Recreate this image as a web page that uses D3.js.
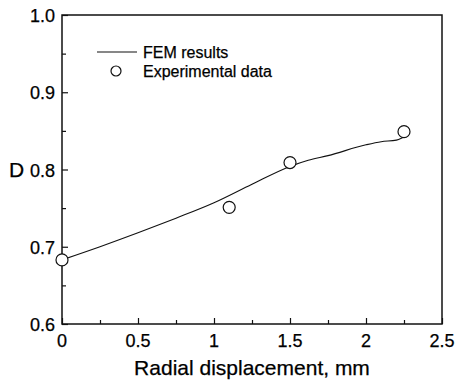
<!DOCTYPE html>
<html>
<head>
<meta charset="utf-8">
<script src="https://cdn.jsdelivr.net/npm/d3@7"></script>
<style>
  body { margin: 0; background: #fff; }
  text { font-family: "Liberation Sans", Arial, sans-serif; fill: #000; stroke: #000; stroke-width: 0.25px; }
</style>
</head>
<body>
<script>
// FEM curve
const femX = [0, 0.25, 0.5, 0.75, 1.0, 1.25, 1.5, 1.62, 1.75, 2.0, 2.1, 2.2, 2.25];
const femD = [0.683, 0.700, 0.718, 0.737, 0.757, 0.781, 0.804, 0.812, 0.818, 0.832, 0.836, 0.838, 0.842];

// experimental points
const expX = [0, 1.1, 1.5, 2.25];
const expD = [0.683, 0.751, 0.809, 0.849];

const xTicks = [0, 0.5, 1, 1.5, 2, 2.5];
const xTickLabels = ["0", "0.5", "1", "1.5", "2", "2.5"];
const yTicks = [0.6, 0.7, 0.8, 0.9, 1.0];
const yTickLabels = ["0.6", "0.7", "0.8", "0.9", "1.0"];

const width = 462, height = 380;
const plotL = 62, plotR = 442, plotT = 15, plotB = 324;

const svg = d3.select('body').append('svg')
  .attr('width', width)
  .attr('height', height);

const x = d3.scaleLinear().domain([0, 2.5]).range([plotL, plotR]);
const y = d3.scaleLinear().domain([0.6, 1.0]).range([plotB, plotT]);

// frame
svg.append('rect')
  .attr('x', plotL).attr('y', plotT)
  .attr('width', plotR - plotL).attr('height', plotB - plotT)
  .attr('fill', 'none').attr('stroke', '#111').attr('stroke-width', 1.5);

// inward ticks
const xAxis = d3.axisTop(x).tickValues(d3.range(0, 2.51, 0.25)).tickSize(0).tickFormat('');
const gx = svg.append('g').attr('transform', `translate(0,${plotB})`).call(xAxis);
gx.select('.domain').remove();
gx.selectAll('.tick line')
  .attr('y2', (d, i) => i % 2 === 0 ? -6 : -4)
  .attr('stroke', '#111').attr('stroke-width', 1.2);

const yAxis = d3.axisRight(y).tickValues(d3.range(0.6, 1.001, 0.05)).tickSize(0).tickFormat('');
const gy = svg.append('g').attr('transform', `translate(${plotL},0)`).call(yAxis);
gy.select('.domain').remove();
gy.selectAll('.tick line')
  .attr('x2', (d, i) => i % 2 === 0 ? 6 : 4)
  .attr('stroke', '#111').attr('stroke-width', 1.2);

// tick labels
svg.append('g').selectAll('text')
  .data(xTicks)
  .enter().append('text')
  .attr('x', d => x(d))
  .attr('y', plotB + 23)
  .attr('text-anchor', 'middle')
  .style('font-size', '18px')
  .text((d, i) => xTickLabels[i]);

svg.append('g').selectAll('text')
  .data(yTicks)
  .enter().append('text')
  .attr('x', plotL - 7)
  .attr('y', d => y(d) + 7)
  .attr('text-anchor', 'end')
  .style('font-size', '18px')
  .text((d, i) => yTickLabels[i]);

// axis titles
svg.append('text')
  .attr('x', (plotL + plotR) / 2)
  .attr('y', 375)
  .attr('text-anchor', 'middle')
  .style('font-size', '21px')
  .text('Radial displacement, mm');

svg.append('text')
  .attr('x', 9)
  .attr('y', 177)
  .style('font-size', '21px')
  .text('D');

// FEM line
const line = d3.line()
  .x(d => x(d[0]))
  .y(d => y(d[1]))
  .curve(d3.curveMonotoneX);

svg.append('path')
  .attr('d', line(femX.map((v, i) => [v, femD[i]])))
  .attr('fill', 'none')
  .attr('stroke', '#111')
  .attr('stroke-width', 1.1);

// experimental markers
svg.append('g').selectAll('circle')
  .data(expX.map((v, i) => [v, expD[i]]))
  .enter().append('circle')
  .attr('cx', d => x(d[0]))
  .attr('cy', d => y(d[1]))
  .attr('r', 6)
  .attr('fill', '#fff')
  .attr('stroke', '#111')
  .attr('stroke-width', 1.2);

// legend
const lg = svg.append('g');
lg.append('line')
  .attr('x1', 97).attr('x2', 137).attr('y1', 52).attr('y2', 52)
  .attr('stroke', '#111').attr('stroke-width', 1.1);
lg.append('text').attr('x', 143).attr('y', 58).style('font-size', '16px').text('FEM results');
lg.append('circle')
  .attr('cx', 116).attr('cy', 71).attr('r', 5)
  .attr('fill', '#fff').attr('stroke', '#111').attr('stroke-width', 1.2);
lg.append('text').attr('x', 143).attr('y', 77).style('font-size', '16px').text('Experimental data');
</script>
</body>
</html>
